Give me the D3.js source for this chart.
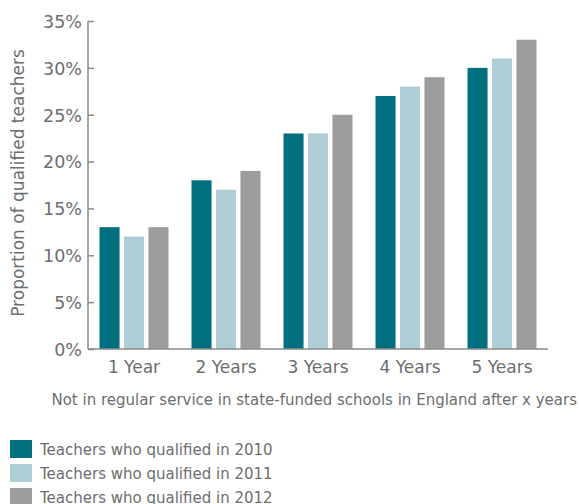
<!DOCTYPE html>
<html>
<head>
<meta charset="utf-8">
<script src="https://cdn.jsdelivr.net/npm/d3@7"></script>
<style>
  body { margin: 0; background: #fff; }
  text { font-family: "DejaVu Sans", "Open Sans", sans-serif; fill: #6d6e70; }
</style>
</head>
<body>
<svg id="chart"></svg>
<script>
// data
const categories = ['1 Year', '2 Years', '3 Years', '4 Years', '5 Years'];
const seriesNames = [
  'Teachers who qualified in 2010',
  'Teachers who qualified in 2011',
  'Teachers who qualified in 2012'
];
const values2010 = [13, 18, 23, 27, 30];
const values2011 = [12, 17, 23, 28, 31];
const values2012 = [13, 19, 25, 29, 33];
const yTicks = [0, 5, 10, 15, 20, 25, 30, 35];
const colors = ['#00707e', '#afcdd5', '#9d9d9c'];

const width = 579;
const height = 504;
const margin = { top: 21, right: 31, bottom: 155, left: 88 };

const seriesValues = [values2010, values2011, values2012];
const data = categories.map((c, i) => ({
  category: c,
  values: seriesValues.map((v, s) => ({ key: seriesNames[s], value: v[i], idx: s }))
}));

const svg = d3.select('#chart')
  .attr('width', width)
  .attr('height', height);

const x0 = d3.scaleBand()
  .domain(categories)
  .range([margin.left, width - margin.right])
  .paddingInner(0.25)
  .paddingOuter(0.125);

const x1 = d3.scaleBand()
  .domain(seriesNames)
  .range([0, x0.bandwidth()])
  .paddingInner(0.18);

const y = d3.scaleLinear()
  .domain([0, 35])
  .range([height - margin.bottom, margin.top]);

// bars
const groups = svg.append('g')
  .selectAll('g')
  .data(data)
  .join('g')
  .attr('transform', d => `translate(${x0(d.category)},0)`);

groups.selectAll('rect')
  .data(d => d.values)
  .join('rect')
  .attr('x', d => x1(d.key))
  .attr('y', d => y(d.value))
  .attr('width', x1.bandwidth())
  .attr('height', d => y(0) - y(d.value))
  .attr('fill', d => colors[d.idx]);

// y axis
const yAxis = svg.append('g')
  .attr('transform', `translate(${margin.left},0)`)
  .call(d3.axisRight(y).tickValues(yTicks).tickSize(6).tickFormat(d => d + '%'));
yAxis.select('.domain').remove();
yAxis.selectAll('.tick line').attr('stroke', '#8a8a8a').attr('stroke-width', 1.5);
yAxis.selectAll('.tick text')
  .attr('x', -6)
  .attr('dy', '0.36em')
  .attr('text-anchor', 'end')
  .attr('font-size', 17.5);

svg.append('line')
  .attr('x1', margin.left).attr('x2', margin.left)
  .attr('y1', y(35)).attr('y2', y(0))
  .attr('stroke', '#8a8a8a').attr('stroke-width', 1.5);

// x axis
svg.append('line')
  .attr('x1', margin.left).attr('x2', width - margin.right)
  .attr('y1', y(0)).attr('y2', y(0))
  .attr('stroke', '#8a8a8a').attr('stroke-width', 1.5);

svg.append('g')
  .selectAll('text')
  .data(categories)
  .join('text')
  .attr('x', d => x0(d) + x0.bandwidth() / 2)
  .attr('y', 373)
  .attr('text-anchor', 'middle')
  .attr('font-size', 17)
  .text(d => d);

// axis titles
svg.append('text')
  .attr('transform', `translate(24,${(y(0) + y(35)) / 2 - 2}) rotate(-90)`)
  .attr('text-anchor', 'middle')
  .attr('font-size', 17)
  .text('Proportion of qualified teachers');

svg.append('text')
  .attr('x', 577)
  .attr('y', 405)
  .attr('text-anchor', 'end')
  .attr('font-size', 15)
  .text('Not in regular service in state-funded schools in England after x years');

// legend
const legend = svg.append('g')
  .attr('transform', 'translate(10,440)');

const items = legend.selectAll('g')
  .data(seriesNames)
  .join('g')
  .attr('transform', (d, i) => `translate(0,${i * 24})`);

items.append('rect')
  .attr('width', 22)
  .attr('height', 18)
  .attr('fill', (d, i) => colors[i]);

items.append('text')
  .attr('x', 30)
  .attr('y', 15)
  .attr('font-size', 15)
  .text(d => d);
</script>
</body>
</html>
